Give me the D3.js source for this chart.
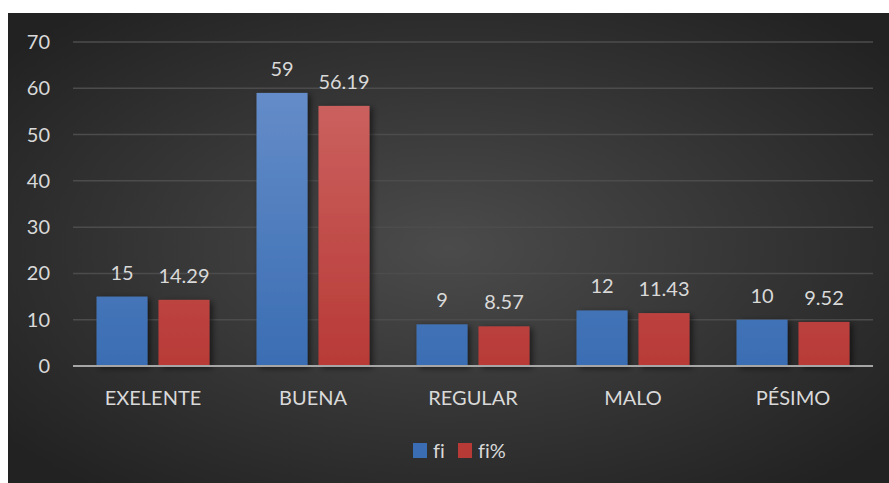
<!DOCTYPE html>
<html>
<head>
<meta charset="utf-8">
<script src="https://cdn.jsdelivr.net/npm/d3@7"></script>
<style>
  html, body { margin: 0; padding: 0; background: #ffffff; }
  svg { display: block; }
  text { font-family: Lato, "Open Sans", sans-serif; fill: #d9d9d9; font-variant-ligatures: none; }
</style>
</head>
<body>
<div id="chart"></div>
<script>
//chart data
var categories = ["EXELENTE", "BUENA", "REGULAR", "MALO", "PÉSIMO"];
var series = ["fi", "fi%"];
var fi = [15, 59, 9, 12, 10];
var fiPct = [14.29, 56.19, 8.57, 11.43, 9.52];
var yTicks = [0, 10, 20, 30, 40, 50, 60, 70];

//svg dimensions
var width = 889;
var height = 483;
var fontSize = 20;

var svg = d3.select("#chart").append("svg")
	.attr("width", width)
	.attr("height", height);

var defs = svg.append("defs");

//dark background, lighter in the middle
var bg = defs.append("radialGradient")
	.attr("id", "bg")
	.attr("cx", "50%").attr("cy", "50%").attr("r", "65%");
bg.append("stop").attr("offset", "0%").attr("stop-color", "#4b4b4b");
bg.append("stop").attr("offset", "100%").attr("stop-color", "#222222");

//bar gradients (top lighter)
function barGradient(id, top, bottom){
	var g = defs.append("linearGradient")
		.attr("id", id)
		.attr("gradientUnits", "userSpaceOnUse")
		.attr("x1", 0).attr("y1", 42).attr("x2", 0).attr("y2", 366);
	g.append("stop").attr("offset", "0%").attr("stop-color", top);
	g.append("stop").attr("offset", "100%").attr("stop-color", bottom);
}
barGradient("gBlue", "#6c92cc", "#3a6db3");
barGradient("gRed", "#cf6a67", "#b83a37");

var shadow = defs.append("filter")
	.attr("id", "shadow")
	.attr("x", "-20%").attr("y", "-20%").attr("width", "150%").attr("height", "140%");
shadow.append("feDropShadow")
	.attr("dx", 3).attr("dy", 2)
	.attr("stdDeviation", 3)
	.attr("flood-color", "#000000")
	.attr("flood-opacity", 0.55);

svg.append("rect")
	.attr("x", 8).attr("y", 13)
	.attr("width", width - 8).attr("height", height - 13)
	.attr("fill", "url(#bg)");

//scales
var y = d3.scaleLinear().domain([0, 70]).range([366, 42]);
var x0 = d3.scaleBand().domain(categories).range([73, 873])
	.paddingInner(0.294).paddingOuter(0.147);
var x1 = d3.scaleBand().domain(series).range([0, x0.bandwidth()])
	.paddingInner(0.177);

var colors = {"fi": "url(#gBlue)", "fi%": "url(#gRed)"};

//gridlines
svg.selectAll("line.grid")
	.data(yTicks.filter(function(t){ return t > 0; }))
	.enter()
	.append("line")
	.attr("class", "grid")
	.attr("x1", 73).attr("x2", 873)
	.attr("y1", function(t){ return y(t); })
	.attr("y2", function(t){ return y(t); })
	.attr("stroke", "#4c4c4c")
	.attr("stroke-width", 1.5);

//y tick labels
svg.selectAll("text.ytick")
	.data(yTicks)
	.enter()
	.append("text")
	.attr("class", "ytick")
	.attr("x", 50)
	.attr("y", function(t){ return y(t); })
	.attr("dy", "0.35em")
	.attr("text-anchor", "end")
	.attr("font-size", fontSize)
	.text(function(t){ return t; });

//bars
var rows = categories.map(function(c, i){
	return {cat: c, values: [{s: "fi", v: fi[i], label: d3.format("d")(fi[i])},
		{s: "fi%", v: fiPct[i], label: d3.format(".2f")(fiPct[i])}]};
});

var groups = svg.selectAll("g.cat")
	.data(rows)
	.enter()
	.append("g")
	.attr("class", "cat")
	.attr("transform", function(d){ return "translate(" + x0(d.cat) + ",0)"; });

groups.selectAll("rect")
	.data(function(d){ return d.values; })
	.enter()
	.append("rect")
	.attr("x", function(d){ return x1(d.s); })
	.attr("y", function(d){ return y(d.v); })
	.attr("width", x1.bandwidth())
	.attr("height", function(d){ return y(0) - y(d.v); })
	.attr("fill", function(d){ return colors[d.s]; })
	.attr("filter", "url(#shadow)");

//data labels
groups.selectAll("text")
	.data(function(d){ return d.values; })
	.enter()
	.append("text")
	.attr("x", function(d){ return x1(d.s) + x1.bandwidth() / 2; })
	.attr("y", function(d){ return y(d.v) - 17; })
	.attr("text-anchor", "middle")
	.attr("font-size", fontSize)
	.text(function(d){ return d.label; });

//zero axis line
svg.append("line")
	.attr("x1", 73).attr("x2", 873)
	.attr("y1", y(0)).attr("y2", y(0))
	.attr("stroke", "#a6a6a6")
	.attr("stroke-width", 2);

//category labels
svg.selectAll("text.cat")
	.data(categories)
	.enter()
	.append("text")
	.attr("class", "cat")
	.attr("x", function(c){ return x0(c) + x0.bandwidth() / 2; })
	.attr("y", 405)
	.attr("text-anchor", "middle")
	.attr("font-size", fontSize)
	.text(function(c){ return c; });

//legend
var legendX = [413, 458];
series.forEach(function(s, i){
	svg.append("rect")
		.attr("x", legendX[i]).attr("y", 443)
		.attr("width", 14).attr("height", 15)
		.attr("fill", colors[s]);
	svg.append("text")
		.attr("x", legendX[i] + 20)
		.attr("y", 458)
		.attr("font-size", fontSize)
		.text(s);
});
</script>
</body>
</html>
